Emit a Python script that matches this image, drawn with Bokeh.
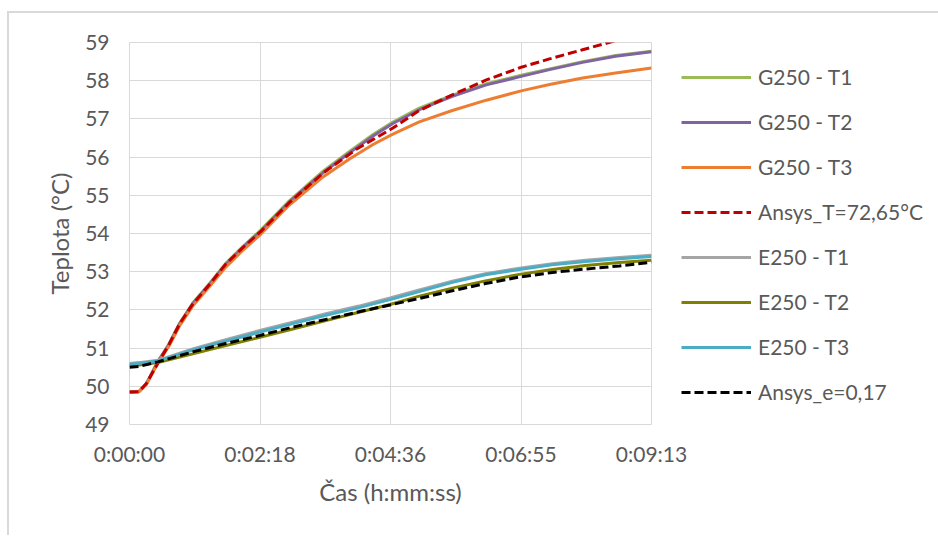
from bokeh.plotting import figure
from bokeh.models import Range1d, FixedTicker, Legend, LegendItem
from bokeh.embed import file_html
from bokeh.resources import INLINE

# ---- data (time in seconds, temperature in °C) ----
t_g = [0, 10, 18, 30, 42, 53, 67, 85, 102, 120, 139, 169, 205, 233, 258, 279, 307, 342, 378, 416, 445, 480, 515, 553]
g250_t1 = [49.85, 49.86, 50.08, 50.65, 51.12, 51.65, 52.18, 52.70, 53.22, 53.66, 54.09, 54.85, 55.63, 56.15, 56.59, 56.92, 57.28, 57.62, 57.92, 58.15, 58.31, 58.50, 58.66, 58.77]
g250_t2 = [49.85, 49.86, 50.07, 50.64, 51.10, 51.63, 52.16, 52.68, 53.19, 53.63, 54.06, 54.82, 55.59, 56.11, 56.55, 56.88, 57.24, 57.59, 57.89, 58.12, 58.29, 58.48, 58.64, 58.76]
g250_t3 = [49.85, 49.86, 50.05, 50.60, 51.06, 51.58, 52.10, 52.62, 53.12, 53.56, 53.98, 54.74, 55.48, 55.95, 56.33, 56.60, 56.92, 57.22, 57.49, 57.74, 57.90, 58.07, 58.20, 58.33]

t_a = [0, 10, 17.5, 31.6, 42, 53, 67, 85, 102, 120, 139, 169, 205, 240, 279, 307, 342, 378, 416, 445, 480, 505, 553]
ansys_t = [49.85, 49.86, 50.06, 50.67, 51.10, 51.63, 52.15, 52.67, 53.20, 53.63, 54.05, 54.80, 55.58, 56.20, 56.76, 57.22, 57.63, 58.02, 58.36, 58.57, 58.81, 58.98, 59.30]

t_e = [0, 10, 30, 67, 102, 138, 173, 208, 243, 276, 307, 342, 377, 413, 448, 483, 519, 553]
e250_t1 = [50.60, 50.62, 50.68, 50.98, 51.22, 51.46, 51.68, 51.90, 52.10, 52.31, 52.52, 52.75, 52.95, 53.09, 53.21, 53.30, 53.37, 53.43]
e250_t2 = [50.55, 50.56, 50.62, 50.85, 51.07, 51.28, 51.50, 51.72, 51.94, 52.14, 52.36, 52.57, 52.76, 52.93, 53.06, 53.16, 53.24, 53.30]
e250_t3 = [50.58, 50.60, 50.66, 50.95, 51.18, 51.42, 51.64, 51.86, 52.06, 52.27, 52.48, 52.72, 52.92, 53.06, 53.18, 53.27, 53.34, 53.40]
ansys_e = [50.50, 50.52, 50.64, 50.90, 51.12, 51.33, 51.55, 51.75, 51.95, 52.13, 52.30, 52.50, 52.69, 52.86, 52.98, 53.07, 53.15, 53.25]

x_ticks = [0, 138.25, 276.5, 414.75, 553]
x_tick_labels = ["0:00:00", "0:02:18", "0:04:36", "0:06:55", "0:09:13"]
y_ticks = [49, 50, 51, 52, 53, 54, 55, 56, 57, 58, 59]

series = [
    ("G250 - T1", t_g, g250_t1, "#9BBB59", "solid"),
    ("G250 - T2", t_g, g250_t2, "#8064A2", "solid"),
    ("G250 - T3", t_g, g250_t3, "#ED7D31", "solid"),
    ("Ansys_T=72,65°C", t_a, ansys_t, "#C00000", "9 4"),
    ("E250 - T1", t_e, e250_t1, "#A5A5A5", "solid"),
    ("E250 - T2", t_e, e250_t2, "#808000", "solid"),
    ("E250 - T3", t_e, e250_t3, "#4BACC6", "solid"),
    ("Ansys_e=0,17", t_e, ansys_e, "#000000", "9 4"),
]

FONT = "Lato"
TXT = "#595959"
GRID = "#D9D9D9"

p = figure(frame_width=522, frame_height=382,
           x_range=Range1d(0, 553), y_range=Range1d(49, 59),
           output_backend="svg", toolbar_location=None,
           min_border_left=120, min_border_top=29,
           min_border_right=0, min_border_bottom=111)
p.styles = {"border-left": "2px solid #D9D9D9", "border-top": "2px solid #D9D9D9",
            "margin-left": "7px", "margin-top": "11px"}

items = []
for name, xs, ys, col, dash in series:
    r = p.line(xs, ys, line_color=col, line_width=3, line_dash=dash)
    items.append(LegendItem(label=name, renderers=[r]))

p.xaxis.ticker = FixedTicker(ticks=x_ticks)
p.xaxis.major_label_overrides = {k: v for k, v in zip(x_ticks, x_tick_labels)}
p.yaxis.ticker = FixedTicker(ticks=y_ticks)

for ax in (p.xaxis[0], p.yaxis[0]):
    ax.axis_line_color = None
    ax.major_tick_line_color = None
    ax.minor_tick_line_color = None
    ax.major_label_text_font = FONT
    ax.major_label_text_font_size = "21px"
    ax.major_label_text_color = TXT
    ax.axis_label_text_font = FONT
    ax.axis_label_text_font_size = "24px"
    ax.axis_label_text_color = TXT
    ax.axis_label_text_font_style = "normal"

p.xaxis.axis_label = "Čas (h:mm:ss)"
p.yaxis.axis_label = "Teplota (°C)"
p.xaxis.major_label_standoff = 10
p.yaxis.major_label_standoff = 14
p.xaxis.axis_label_standoff = 8
p.yaxis.axis_label_standoff = 8

p.grid.grid_line_color = GRID
p.grid.grid_line_width = 1
p.outline_line_color = GRID
p.outline_line_width = 1

legend = Legend(items=items, location=(30, 20), margin=0, padding=0,
                spacing=20, glyph_width=70, glyph_height=20, label_height=20,
                label_standoff=7, border_line_color=None, background_fill_alpha=0,
                label_text_font=FONT, label_text_font_size="21px",
                label_text_color=TXT)
p.add_layout(legend, "right")

open("out.html", "w").write(file_html(p, INLINE))
